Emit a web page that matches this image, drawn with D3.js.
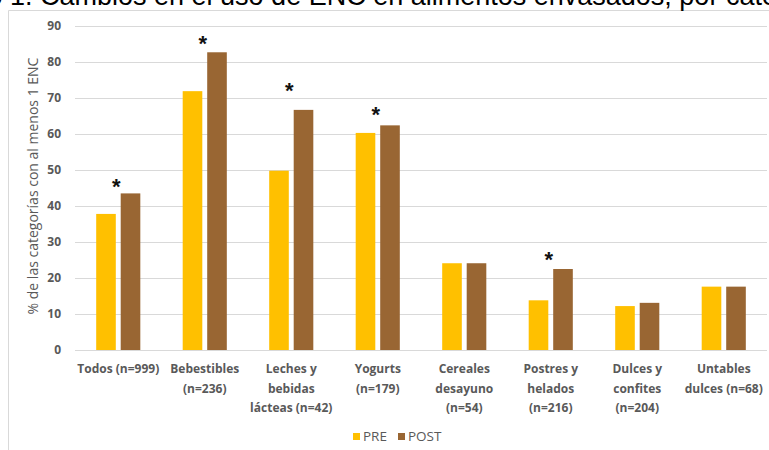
<!DOCTYPE html>
<html>
<head>
<meta charset="utf-8">
<script src="https://cdn.jsdelivr.net/npm/d3@7"></script>
<style>
  body { margin: 0; background: #fff; }
  .tick-y { font-family: "Open Sans", sans-serif; font-weight: bold; font-size: 12px; fill: #595959; }
  .tick-x { font-family: "Open Sans", sans-serif; font-weight: bold; font-size: 12px; fill: #595959; }
  .ytitle { font-family: "Open Sans", sans-serif; font-size: 14px; fill: #595959; }
  .legend { font-family: "Open Sans", sans-serif; font-size: 13.5px; fill: #595959; }
  .star { font-family: "Liberation Sans", Arial, sans-serif; font-weight: bold; font-size: 22px; fill: #111; }
  .title { font-family: "Liberation Sans", Arial, sans-serif; font-size: 27px; fill: #000; }
</style>
</head>
<body>
<div id="chart"></div>
<script>
// DATA
const categories = [
  ["Todos (n=999)"],
  ["Bebestibles", "(n=236)"],
  ["Leches y", "bebidas", "lácteas (n=42)"],
  ["Yogurts", "(n=179)"],
  ["Cereales", "desayuno", "(n=54)"],
  ["Postres y", "helados", "(n=216)"],
  ["Dulces y", "confites", "(n=204)"],
  ["Untables", "dulces (n=68)"]
]
const seriesNames = ["PRE", "POST"]
const pre  = [37.8, 71.9, 49.8, 60.3, 24.1, 13.8, 12.2, 17.6]
const post = [43.5, 82.7, 66.7, 62.4, 24.1, 22.5, 13.1, 17.6]
// asterisk height (in % units) for significant changes, null = none
const signif = [47, 86.7, 73.6, 66.9, null, 26.7, null, null]
const yTicks = [0, 10, 20, 30, 40, 50, 60, 70, 80, 90]
const titleText = "Gráfico 1. Cambios en el uso de ENC en alimentos envasados, por categoría"

const colours = ["#FFC000", "#996633"]

const W = 769, H = 450
const PLOT = { LEFT: 75, RIGHT: 767, TOP: 26, BOTTOM: 350 }

const svg = d3.select("#chart").append("svg")
  .attr("width", W).attr("height", H)

// frame of the chart area (cut off at right/bottom)
svg.append("path")
  .attr("d", `M8.5,${H} L8.5,10.5 L${W},10.5`)
  .attr("fill", "none").attr("stroke", "#d9d9d9")

// title, partly cropped at the top
const title = svg.append("text").attr("class", "title").text(titleText).attr("y", 5)
const pre_len = title.node().getSubStringLength(0, "Gráfico 1. ".length)
title.attr("x", 40 - pre_len)

//SCALES
const x0 = d3.scaleBand().domain(d3.range(categories.length))
  .range([PLOT.LEFT, PLOT.RIGHT]).paddingInner(0.49).paddingOuter(0.245)
const x1 = d3.scaleBand().domain(seriesNames).range([0, x0.bandwidth()]).paddingInner(0.2)
const y = d3.scaleLinear().domain([0, 90]).range([PLOT.BOTTOM, PLOT.TOP])

// GRID
const grid = d3.axisLeft(y).tickValues(yTicks).tickSize(-(PLOT.RIGHT - PLOT.LEFT)).tickFormat("")
const gGrid = svg.append("g").attr("transform", `translate(${PLOT.LEFT},0)`).call(grid)
gGrid.select(".domain").remove()
gGrid.selectAll("line").attr("stroke", "#d9d9d9")

// Y labels
const yAxis = d3.axisLeft(y).tickValues(yTicks).tickSize(0).tickPadding(0)
const gY = svg.append("g").attr("transform", `translate(61,0)`).call(yAxis)
gY.select(".domain").remove()
gY.selectAll("text").attr("class", "tick-y").attr("font-size", null).attr("font-family", null).attr("fill", null)

svg.append("text").attr("class", "ytitle")
  .attr("transform", `translate(38,186) rotate(-90)`)
  .attr("text-anchor", "middle")
  .text("% de las categorías con al menos 1 ENC")

// BARS
const groups = svg.append("g").selectAll("g").data(categories).join("g")
  .attr("transform", (d, i) => `translate(${x0(i)},0)`)
groups.selectAll("rect")
  .data((d, i) => [{ s: "PRE", v: pre[i] }, { s: "POST", v: post[i] }])
  .join("rect")
  .attr("x", d => x1(d.s))
  .attr("width", x1.bandwidth())
  .attr("y", d => y(d.v))
  .attr("height", d => y(0) - y(d.v))
  .attr("fill", (d, i) => colours[i])

// baseline
svg.append("line").attr("x1", PLOT.LEFT).attr("x2", PLOT.RIGHT)
  .attr("y1", y(0) + 0.5).attr("y2", y(0) + 0.5).attr("stroke", "#d9d9d9")

// asterisks
svg.append("g").selectAll("text").data(signif).join("text")
  .filter(d => d !== null)
  .attr("class", "star")
  .attr("text-anchor", "middle")
  .attr("x", (d, i) => x0(signif.indexOf(d)) + x0.bandwidth() / 2 - 2)
  .attr("y", d => y(d) + 13)
  .text("*")

// X labels
const xl = svg.append("g").selectAll("text").data(categories).join("text")
  .attr("class", "tick-x").attr("text-anchor", "middle")
  .attr("transform", (d, i) => `translate(${x0(i) + x0.bandwidth() / 2},373)`)
xl.selectAll("tspan").data(d => d).join("tspan")
  .attr("x", 0).attr("y", (d, i) => i * 19.5).text(d => d)

// LEGEND
const lg = svg.append("g").selectAll("g").data(seriesNames).join("g")
  .attr("transform", (d, i) => `translate(${[353, 398][i]},433)`)
lg.append("rect").attr("width", 7).attr("height", 7).attr("fill", (d, i) => colours[i])
lg.append("text").attr("class", "legend").attr("x", 10).attr("y", 8).text(d => d)
</script>
</body>
</html>
